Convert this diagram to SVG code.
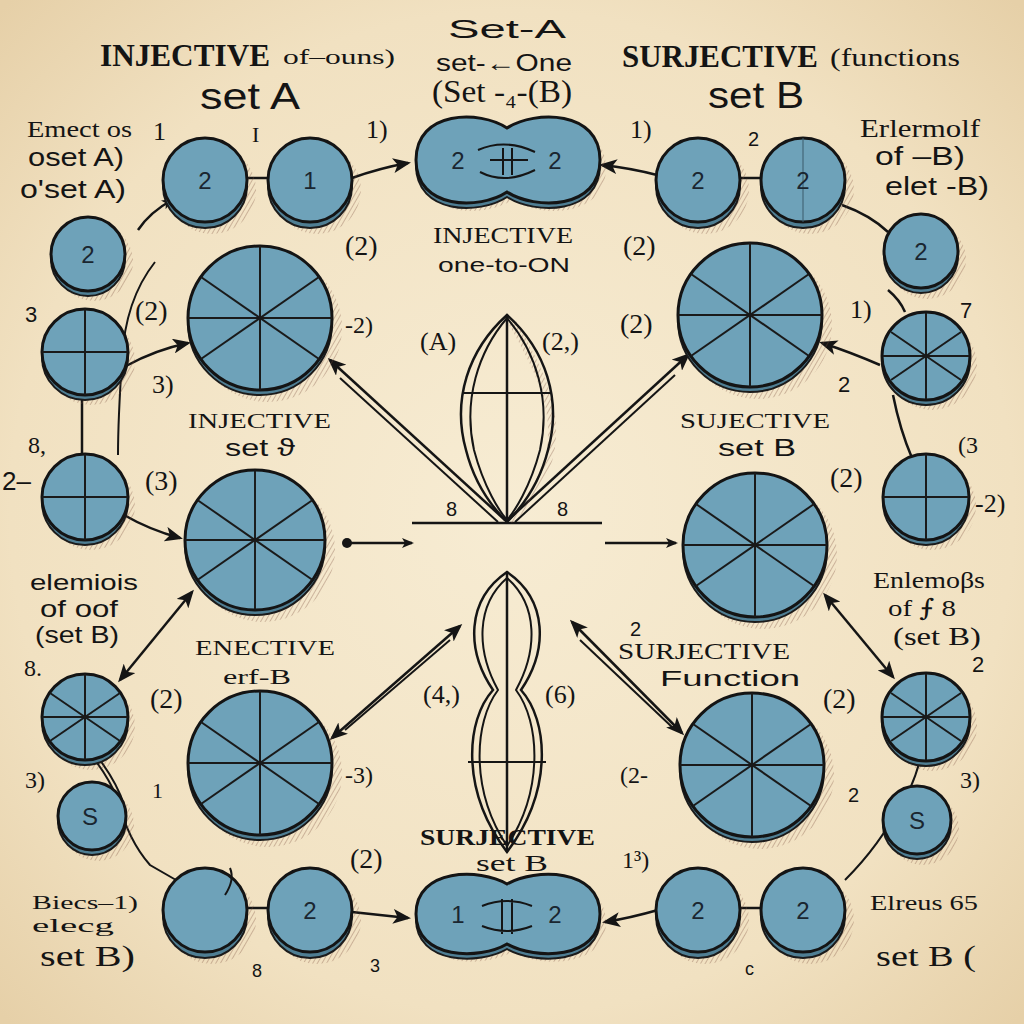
<svg xmlns="http://www.w3.org/2000/svg" xmlns:xlink="http://www.w3.org/1999/xlink" width="1024" height="1024" viewBox="0 0 1024 1024">
<defs>
<radialGradient id="bg" cx="50%" cy="50%" r="70%">
<stop offset="0" stop-color="#f7ecd3"/>
<stop offset="0.7" stop-color="#f1e1c1"/>
<stop offset="1" stop-color="#e6d0a8"/>
</radialGradient>
<pattern id="hatch" width="4" height="4" patternUnits="userSpaceOnUse" patternTransform="rotate(30)">
<line x1="0" y1="0" x2="0" y2="4" stroke="#7a4a3a" stroke-width="1.2" opacity="0.55"/>
</pattern>
<marker id="ah" viewBox="0 0 12 10" refX="10" refY="5" markerWidth="12" markerHeight="10" markerUnits="userSpaceOnUse" orient="auto-start-reverse">
<path d="M0,0 L12,5 L0,10 L3,5 Z" fill="#151515"/>
</marker>
<marker id="ahb" viewBox="0 0 12 10" refX="10" refY="5" markerWidth="18" markerHeight="15" markerUnits="userSpaceOnUse" orient="auto-start-reverse">
<path d="M0,0 L12,5 L0,10 L3,5 Z" fill="#151515"/>
</marker>
<g id="s72" class="sec">
<line x1="-72" y1="0" x2="72" y2="0"/><line x1="0" y1="-72" x2="0" y2="72"/>
<line x1="-59" y1="-41" x2="59" y2="41"/><line x1="59" y1="-41" x2="-59" y2="41"/>
</g>
<g id="s43" class="sec">
<line x1="-43" y1="0" x2="43" y2="0"/><line x1="0" y1="-43" x2="0" y2="43"/>
<line x1="-35" y1="-24" x2="35" y2="24"/><line x1="35" y1="-24" x2="-35" y2="24"/>
</g>
<g id="c43" class="sec">
<line x1="-43" y1="0" x2="43" y2="0"/><line x1="0" y1="-43" x2="0" y2="43"/>
</g>
</defs>
<style>
.node{fill:#6ea2b9;stroke:#141414;stroke-width:3}
.rim{fill:#4f7e93;stroke:#1b1b1b;stroke-width:2}
.shd{fill:url(#hatch)}
.sec line{stroke:#1a1a1a;stroke-width:2}
.num{font-family:"Liberation Sans","DejaVu Sans",sans-serif;font-size:24px;fill:#1a2630;text-anchor:middle}
.hd{font-family:"Liberation Serif","DejaVu Serif",serif;font-weight:bold;fill:#141414}
.lb{font-family:"Liberation Serif","DejaVu Serif",serif;fill:#141414}
.ss{font-family:"Liberation Sans","DejaVu Sans",sans-serif;fill:#141414}
.ln{fill:none;stroke:#151515;stroke-width:2.5}
.thin{fill:none;stroke:#151515;stroke-width:2}
</style>
<rect width="1024" height="1024" fill="url(#bg)"/>

<!-- connectors -->
<g id="connectors">
<line class="ln" x1="245" y1="178" x2="272" y2="178"/>
<path class="ln" d="M352,178 Q380,168 408,163" marker-end="url(#ahb)"/>
<path class="ln" d="M657,175 Q630,168 602,165" marker-end="url(#ahb)"/>
<line class="ln" x1="740" y1="178" x2="765" y2="178"/>
<path class="ln" d="M138,230 Q150,212 172,200" marker-end="url(#ah)"/>
<path class="ln" d="M842,205 Q870,215 888,232"/>
<path class="ln" d="M888,290 Q900,300 905,312"/>
<path class="ln" d="M126,366 Q155,350 188,343" marker-end="url(#ahb)"/>
<path class="thin" d="M155,262 Q125,300 122,360 Q118,420 118,455"/>
<line class="ln" x1="82" y1="396" x2="82" y2="455"/>
<path class="ln" d="M124,515 Q150,530 180,538" marker-end="url(#ahb)"/>
<path class="ln" d="M120,680 L192,592" marker-start="url(#ahb)" marker-end="url(#ahb)"/>
<path class="thin" d="M95,760 Q110,780 118,800 Q128,840 150,865 L176,880"/>
<path class="thin" d="M100,760 Q118,785 124,805"/>
<path class="ln" d="M345,543 L412,543" marker-end="url(#ah)"/>
<circle cx="347" cy="543" r="5" fill="#151515"/>
<path class="ln" d="M605,543 L676,543" marker-end="url(#ah)"/>
<path class="ln" d="M505,520 L330,360" marker-end="url(#ahb)"/>
<path class="thin" d="M498,522 L340,378"/>
<path class="ln" d="M508,520 L688,355" marker-end="url(#ahb)"/>
<path class="thin" d="M515,522 L675,375"/>
<path class="ln" d="M460,626 L332,738" marker-start="url(#ahb)" marker-end="url(#ahb)"/>
<path class="thin" d="M450,640 L345,730"/>
<path class="ln" d="M572,622 L682,733" marker-start="url(#ahb)" marker-end="url(#ahb)"/>
<path class="thin" d="M580,640 L672,727"/>
<path class="ln" d="M880,365 Q850,352 822,343" marker-end="url(#ahb)"/>
<path class="ln" d="M893,395 Q900,430 912,458"/>
<path class="ln" d="M825,595 L893,677" marker-start="url(#ahb)" marker-end="url(#ahb)"/>
<path class="thin" d="M920,760 Q912,790 900,805 Q880,845 845,880"/>
<path class="ln" d="M352,912 Q380,915 408,918" marker-end="url(#ahb)"/>
<path class="ln" d="M658,910 Q630,918 605,922" marker-end="url(#ahb)"/>
<line class="ln" x1="245" y1="908" x2="272" y2="908"/>
<line class="ln" x1="740" y1="908" x2="765" y2="908"/>
<line class="ln" x1="412" y1="523" x2="602" y2="523"/>
</g>

<!-- top row -->
<g id="n-top-2a"><circle class="shd" cx="212" cy="190" r="44"/><circle class="rim" cx="205" cy="186" r="42"/><circle class="node" cx="205" cy="180" r="42"/><text class="num" x="205" y="189">2</text></g>
<g id="n-top-1"><circle class="shd" cx="317" cy="190" r="44"/><circle class="rim" cx="310" cy="186" r="42"/><circle class="node" cx="310" cy="180" r="42"/><text class="num" x="310" y="189">1</text></g>
<g id="n-top-peanut">
<path class="shd" d="M512,136 C485,118 422,118 422,168 C422,218 485,218 512,200 C540,218 606,218 606,168 C606,118 540,118 512,136 Z"/>
<path class="rim" d="M507,133 C480,115 416,115 416,165 C416,215 480,215 507,197 C535,215 600,215 600,165 C600,115 535,115 507,133 Z"/>
<path class="node" d="M507,128 C480,110 416,110 416,160 C416,210 480,210 507,192 C535,210 600,210 600,160 C600,110 535,110 507,128 Z"/>
<path class="thin" d="M478,150 Q505,138 535,152 M480,172 Q505,185 535,170 M490,160 L528,160 M503,148 L503,175 M512,148 L512,175"/>
<text class="num" x="458" y="169">2</text><text class="num" x="555" y="169">2</text>
</g>
<g id="n-top-2b"><circle class="shd" cx="705" cy="190" r="44"/><circle class="rim" cx="698" cy="186" r="42"/><circle class="node" cx="698" cy="180" r="42"/><text class="num" x="698" y="189">2</text></g>
<g id="n-top-2c"><circle class="shd" cx="810" cy="190" r="44"/><circle class="rim" cx="803" cy="186" r="42"/><circle class="node" cx="803" cy="180" r="42"/><line x1="803" y1="138" x2="803" y2="222" stroke="#3a5a6a" stroke-width="1"/><text class="num" x="803" y="189">2</text></g>

<!-- left column -->
<g id="n-l1"><circle class="shd" cx="94" cy="262" r="39"/><circle class="rim" cx="88" cy="259" r="37"/><circle class="node" cx="88" cy="254" r="37"/><text class="num" x="88" y="263">2</text></g>
<g id="n-l2"><circle class="shd" cx="91" cy="361" r="44"/><circle class="rim" cx="85" cy="357" r="43"/><circle class="node" cx="85" cy="352" r="43"/><use href="#c43" x="85" y="352"/></g>
<g id="n-l3"><circle class="shd" cx="91" cy="506" r="44"/><circle class="rim" cx="85" cy="502" r="43"/><circle class="node" cx="85" cy="497" r="43"/><use href="#c43" x="85" y="497"/></g>
<g id="n-l4"><circle class="shd" cx="91" cy="726" r="44"/><circle class="rim" cx="85" cy="722" r="43"/><circle class="node" cx="85" cy="717" r="43"/><use href="#s43" x="85" y="717"/></g>
<g id="n-l5"><circle class="shd" cx="98" cy="825" r="36"/><circle class="rim" cx="92" cy="821" r="34"/><circle class="node" cx="92" cy="816" r="34"/><text class="num" x="90" y="825">S</text></g>

<!-- right column -->
<g id="n-r1"><circle class="shd" cx="927" cy="260" r="39"/><circle class="rim" cx="921" cy="256" r="37"/><circle class="node" cx="921" cy="251" r="37"/><text class="num" x="921" y="260">2</text></g>
<g id="n-r2"><circle class="shd" cx="932" cy="365" r="45"/><circle class="rim" cx="926" cy="361" r="44"/><circle class="node" cx="926" cy="356" r="44"/><use href="#s43" x="926" y="356"/></g>
<g id="n-r3"><circle class="shd" cx="932" cy="506" r="44"/><circle class="rim" cx="926" cy="502" r="43"/><circle class="node" cx="926" cy="497" r="43"/><use href="#c43" x="926" y="497"/></g>
<g id="n-r4"><circle class="shd" cx="932" cy="726" r="45"/><circle class="rim" cx="926" cy="722" r="44"/><circle class="node" cx="926" cy="717" r="44"/><use href="#s43" x="926" y="717"/></g>
<g id="n-r5"><circle class="shd" cx="923" cy="829" r="36"/><circle class="rim" cx="917" cy="825" r="34"/><circle class="node" cx="917" cy="820" r="34"/><text class="num" x="917" y="829">S</text></g>

<!-- big circles -->
<g id="n-b1"><circle class="shd" cx="268" cy="328" r="74"/><circle class="rim" cx="260" cy="323" r="72"/><circle class="node" cx="260" cy="318" r="72"/><use href="#s72" x="260" y="318"/></g>
<g id="n-b2"><circle class="shd" cx="263" cy="550" r="72"/><circle class="rim" cx="255" cy="545" r="70"/><circle class="node" cx="255" cy="540" r="70"/><use href="#s72" x="255" y="540" transform="translate(255 540) scale(0.97) translate(-255 -540)"/></g>
<g id="n-b3"><circle class="shd" cx="268" cy="773" r="74"/><circle class="rim" cx="260" cy="768" r="72"/><circle class="node" cx="260" cy="763" r="72"/><use href="#s72" x="260" y="763"/></g>
<g id="n-b4"><circle class="shd" cx="758" cy="325" r="74"/><circle class="rim" cx="750" cy="320" r="72"/><circle class="node" cx="750" cy="315" r="72"/><use href="#s72" x="750" y="315"/></g>
<g id="n-b5"><circle class="shd" cx="763" cy="555" r="74"/><circle class="rim" cx="755" cy="550" r="72"/><circle class="node" cx="755" cy="545" r="72"/><use href="#s72" x="755" y="545"/></g>
<g id="n-b6"><circle class="shd" cx="760" cy="775" r="74"/><circle class="rim" cx="752" cy="770" r="72"/><circle class="node" cx="752" cy="765" r="72"/><use href="#s72" x="752" y="765"/></g>

<!-- bottom row -->
<g id="n-bot-a"><circle class="shd" cx="212" cy="920" r="44"/><circle class="rim" cx="205" cy="916" r="42"/><circle class="node" cx="205" cy="910" r="42"/><path class="thin" d="M230,868 Q235,880 225,895"/></g>
<g id="n-bot-2a"><circle class="shd" cx="317" cy="920" r="44"/><circle class="rim" cx="310" cy="916" r="42"/><circle class="node" cx="310" cy="910" r="42"/><text class="num" x="310" y="919">2</text></g>
<g id="n-bot-peanut">
<path class="shd" d="M512,892 C485,876 422,876 422,922 C422,968 485,968 512,952 C540,968 606,968 606,922 C606,876 540,876 512,892 Z"/>
<path class="rim" d="M507,889 C480,873 416,873 416,919 C416,965 480,965 507,949 C535,965 600,965 600,919 C600,873 535,873 507,889 Z"/>
<path class="node" d="M507,884 C480,868 416,868 416,914 C416,960 480,960 507,944 C535,960 600,960 600,914 C600,868 535,868 507,884 Z"/>
<path class="thin" d="M482,906 Q507,896 532,906 M482,926 Q507,936 532,926 M502,899 L502,934 M512,899 L512,934"/>
<text class="num" x="458" y="923">1</text><text class="num" x="555" y="923">2</text>
</g>
<g id="n-bot-2b"><circle class="shd" cx="705" cy="920" r="44"/><circle class="rim" cx="698" cy="916" r="42"/><circle class="node" cx="698" cy="910" r="42"/><text class="num" x="698" y="919">2</text></g>
<g id="n-bot-2c"><circle class="shd" cx="810" cy="920" r="44"/><circle class="rim" cx="803" cy="916" r="42"/><circle class="node" cx="803" cy="910" r="42"/><text class="num" x="803" y="919">2</text></g>

<!-- central figures -->
<g id="lens">
<path d="M512,322 C540,370 565,420 545,470 C530,500 515,515 510,522" fill="none" stroke="url(#hatch)" stroke-width="8"/>
<path class="ln" d="M507,315 C468,350 452,400 466,450 C476,490 500,515 507,522 C514,515 538,490 548,450 C562,400 546,350 507,315 Z"/>
<path class="thin" d="M507,318 C478,352 463,400 474,450 C484,488 500,512 507,520 C514,512 530,488 540,450 C551,400 536,352 507,318"/>
<line class="ln" x1="507" y1="315" x2="507" y2="522"/>
<line class="thin" x1="464" y1="393" x2="550" y2="393"/>
</g>
<g id="figure8">
<path class="ln" d="M507,572 C466,600 466,650 493,690 C466,720 460,790 507,852 C554,790 548,720 521,690 C548,650 548,600 507,572 Z"/>
<path class="thin" d="M507,578 C476,605 476,650 498,690 C474,722 470,790 507,846 C544,790 540,722 516,690 C538,650 538,605 507,578"/>
<line class="ln" x1="507" y1="572" x2="507" y2="852"/>
<line class="thin" x1="468" y1="762" x2="546" y2="762"/>
</g>

<!-- labels -->
<g id="labels">
<text class="hd" x="100" y="66" font-size="31" textLength="170" lengthAdjust="spacingAndGlyphs">INJECTIVE</text>
<text class="lb" x="283" y="64" font-size="21" textLength="112" lengthAdjust="spacingAndGlyphs">of–ouns)</text>
<text class="ss" x="200" y="109" font-size="36" textLength="100" lengthAdjust="spacingAndGlyphs">set A</text>
<text class="ss" x="448" y="38" font-size="26" textLength="118" lengthAdjust="spacingAndGlyphs">Set-A</text>
<text class="ss" x="436" y="71" font-size="24" textLength="136" lengthAdjust="spacingAndGlyphs">set-←One</text>
<text class="lb" x="432" y="102" font-size="31" textLength="140" lengthAdjust="spacingAndGlyphs">(Set -₄-(B)</text>
<text class="hd" x="622" y="67" font-size="31" textLength="196" lengthAdjust="spacingAndGlyphs">SURJECTIVE</text>
<text class="lb" x="830" y="66" font-size="25" textLength="130" lengthAdjust="spacingAndGlyphs">(functions</text>
<text class="ss" x="708" y="108" font-size="36" textLength="96" lengthAdjust="spacingAndGlyphs">set B</text>

<text class="lb" x="27" y="137" font-size="24" textLength="105" lengthAdjust="spacingAndGlyphs">Emect os</text>
<text class="ss" x="28" y="166" font-size="25" textLength="96" lengthAdjust="spacingAndGlyphs">oset A)</text>
<text class="ss" x="20" y="198" font-size="25" textLength="106" lengthAdjust="spacingAndGlyphs">o'set A)</text>
<text class="lb" x="153" y="140" font-size="26">1</text>
<text class="lb" x="252" y="142" font-size="22">I</text>
<text class="lb" x="366" y="138" font-size="26">1)</text>
<text class="lb" x="630" y="138" font-size="26">1)</text>
<text class="ss" x="748" y="146" font-size="20">2</text>
<text class="lb" x="860" y="137" font-size="25" textLength="120" lengthAdjust="spacingAndGlyphs">Erlermolf</text>
<text class="ss" x="875" y="165" font-size="25" textLength="90" lengthAdjust="spacingAndGlyphs">of –B)</text>
<text class="ss" x="885" y="195" font-size="25" textLength="104" lengthAdjust="spacingAndGlyphs">elet -B)</text>

<text class="lb" x="433" y="243" font-size="23" textLength="140" lengthAdjust="spacingAndGlyphs">INJECTIVE</text>
<text class="ss" x="438" y="272" font-size="20" textLength="132" lengthAdjust="spacingAndGlyphs">one-to-ON</text>
<text class="lb" x="345" y="255" font-size="28">(2)</text>
<text class="lb" x="623" y="255" font-size="28">(2)</text>
<text class="ss" x="25" y="322" font-size="22">3</text>
<text class="lb" x="135" y="320" font-size="28">(2)</text>
<text class="lb" x="345" y="333" font-size="24">-2)</text>
<text class="lb" x="620" y="333" font-size="28">(2)</text>
<text class="lb" x="850" y="318" font-size="26">1)</text>
<text class="ss" x="960" y="318" font-size="22">7</text>
<text class="lb" x="420" y="350" font-size="26">(A)</text>
<text class="lb" x="542" y="350" font-size="26">(2,)</text>
<text class="lb" x="152" y="393" font-size="26">3)</text>
<text class="ss" x="838" y="392" font-size="22">2</text>

<text class="lb" x="188" y="428" font-size="22" textLength="143" lengthAdjust="spacingAndGlyphs">INJECTIVE</text>
<text class="ss" x="225" y="456" font-size="24" textLength="70" lengthAdjust="spacingAndGlyphs">set ϑ</text>
<text class="lb" x="680" y="428" font-size="22" textLength="150" lengthAdjust="spacingAndGlyphs">SUJECTIVE</text>
<text class="ss" x="718" y="456" font-size="24" textLength="78" lengthAdjust="spacingAndGlyphs">set B</text>
<text class="lb" x="958" y="453" font-size="24">(3</text>
<text class="lb" x="28" y="453" font-size="24">8,</text>
<text class="lb" x="145" y="490" font-size="28">(3)</text>
<text class="ss" x="2" y="490" font-size="26">2–</text>
<text class="lb" x="830" y="487" font-size="28">(2)</text>
<text class="lb" x="975" y="512" font-size="26">-2)</text>
<text class="ss" x="446" y="516" font-size="20">8</text>
<text class="ss" x="557" y="516" font-size="20">8</text>

<text class="ss" x="30" y="590" font-size="22" textLength="108" lengthAdjust="spacingAndGlyphs">elemiois</text>
<text class="ss" x="40" y="617" font-size="24" textLength="78" lengthAdjust="spacingAndGlyphs">of oof</text>
<text class="ss" x="35" y="643" font-size="24" textLength="84" lengthAdjust="spacingAndGlyphs">(set B)</text>
<text class="lb" x="24" y="676" font-size="24">8.</text>
<text class="lb" x="873" y="588" font-size="24" textLength="112" lengthAdjust="spacingAndGlyphs">Enlemoβs</text>
<text class="lb" x="888" y="616" font-size="24" textLength="68" lengthAdjust="spacingAndGlyphs">of ⨍ 8</text>
<text class="lb" x="893" y="645" font-size="26" textLength="88" lengthAdjust="spacingAndGlyphs">(set B)</text>
<text class="ss" x="972" y="672" font-size="22">2</text>

<text class="lb" x="195" y="655" font-size="22" textLength="140" lengthAdjust="spacingAndGlyphs">ENECTIVE</text>
<text class="lb" x="223" y="684" font-size="22" textLength="68" lengthAdjust="spacingAndGlyphs">erf-B</text>
<text class="lb" x="618" y="659" font-size="23" textLength="172" lengthAdjust="spacingAndGlyphs">SURJECTIVE</text>
<text class="ss" x="660" y="686" font-size="22" textLength="140" lengthAdjust="spacingAndGlyphs">Function</text>
<text class="ss" x="630" y="636" font-size="20">2</text>
<text class="lb" x="150" y="708" font-size="28">(2)</text>
<text class="lb" x="823" y="708" font-size="28">(2)</text>
<text class="lb" x="423" y="703" font-size="26">(4,)</text>
<text class="lb" x="545" y="703" font-size="26">(6)</text>
<text class="lb" x="25" y="788" font-size="24">3)</text>
<text class="lb" x="152" y="798" font-size="22">1</text>
<text class="lb" x="345" y="783" font-size="24">-3)</text>
<text class="lb" x="620" y="783" font-size="24">(2-</text>
<text class="ss" x="848" y="802" font-size="20">2</text>
<text class="lb" x="960" y="788" font-size="24">3)</text>

<text class="hd" x="420" y="845" font-size="23" textLength="175" lengthAdjust="spacingAndGlyphs">SURJECTIVE</text>
<text class="lb" x="476" y="871" font-size="24" textLength="72" lengthAdjust="spacingAndGlyphs">set B</text>
<text class="lb" x="350" y="868" font-size="28">(2)</text>
<text class="lb" x="622" y="868" font-size="24">1³)</text>
<text class="lb" x="32" y="909" font-size="18" textLength="106" lengthAdjust="spacingAndGlyphs">Biecs–1)</text>
<text class="lb" x="32" y="932" font-size="18" textLength="82" lengthAdjust="spacingAndGlyphs">elecg</text>
<text class="lb" x="40" y="966" font-size="30" textLength="95" lengthAdjust="spacingAndGlyphs">set B)</text>
<text class="lb" x="870" y="910" font-size="20" textLength="108" lengthAdjust="spacingAndGlyphs">Elreus 65</text>
<text class="lb" x="876" y="966" font-size="30" textLength="100" lengthAdjust="spacingAndGlyphs">set B (</text>
<text class="ss" x="252" y="977" font-size="18">8</text>
<text class="ss" x="370" y="972" font-size="18">3</text>
<text class="ss" x="745" y="975" font-size="18">c</text>
</g>
</svg>
